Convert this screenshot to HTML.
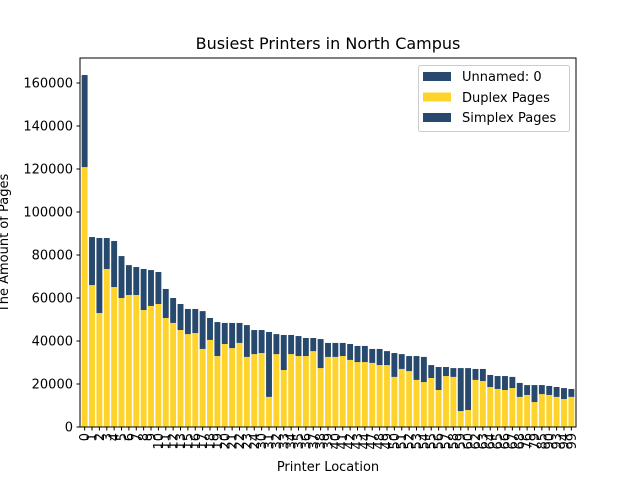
<!DOCTYPE html>
<html><head><meta charset="utf-8"><style>
html,body{margin:0;padding:0;background:#fff;}
svg{display:block;font-family:"DejaVu Sans","Liberation Sans",sans-serif;}
</style></head><body>
<svg id="chart" width="640" height="480" viewBox="0 0 640 480" xmlns="http://www.w3.org/2000/svg">
<rect x="0" y="0" width="640" height="480" fill="#fff"/>
<text x="328" y="49" font-size="16" text-anchor="middle" fill="#000">Busiest Printers in North Campus</text>
<text x="0" y="0" font-size="13" text-anchor="middle" transform="translate(8,243) rotate(-90)" fill="#000">The Amount of Pages</text>
<text x="328" y="471" font-size="13" text-anchor="middle" fill="#000">Printer Location</text>
<g id="bars"></g>
<g id="yticks"></g>
<g id="xticks"></g>
<rect x="80" y="58" width="496" height="369" fill="none" stroke="#000" stroke-width="1"/>
<g>
<rect x="418.5" y="65.5" width="151" height="66" rx="2" fill="#fff" fill-opacity="0.8" stroke="#ccc"/>
<rect x="423" y="72" width="28" height="9" fill="#27496d"/>
<text x="462" y="81" font-size="13">Unnamed: 0</text>
<rect x="423" y="92.5" width="28" height="9" fill="#fed42c"/>
<text x="462" y="102" font-size="13">Duplex Pages</text>
<rect x="423" y="113" width="28" height="9" fill="#27496d"/>
<text x="462" y="122" font-size="13">Simplex Pages</text>
</g>
</svg>
<script>
const categories = ["0","1","2","3","4","5","6","7","8","9","10","11","12","13","15","16","17","18","19","20","21","22","23","24","30","31","32","33","34","35","36","37","38","39","40","41","42","43","44","47","48","49","50","51","52","53","54","55","56","57","58","59","60","62","63","64","65","66","67","68","76","79","85","90","93","94","99"];
const totalPages = [163700,88350,87900,87900,86500,79500,75300,74400,73500,73000,72100,64200,60000,57200,54900,54900,53900,50700,48800,48400,48400,48400,47400,45100,45100,44200,43200,42800,42800,42300,41400,41400,40900,39100,39100,39100,38600,37700,37700,36300,36300,35300,34400,33900,33000,33000,32600,28800,27900,27900,27400,27400,27400,27000,27000,24200,23700,23700,23300,20500,19500,19500,19500,19100,18600,18100,17700];
const duplexPages = [120900,66000,53000,73500,65100,60000,61400,61400,54400,56300,57200,50700,48400,45100,43200,43700,36300,40500,33000,38600,36700,39100,32600,33900,34400,14000,33900,26500,33900,33000,33000,35300,27400,32600,32600,33000,31200,30200,30200,29800,28800,28800,23300,27000,26000,21900,20900,22800,17200,23700,23300,7400,7900,21900,21400,18600,17700,17200,18100,14000,14900,11600,15300,14900,14000,13000,14000];
const yTicks = [0,20000,40000,60000,80000,100000,120000,140000,160000];

const NS = "http://www.w3.org/2000/svg";
const L = 80, R = 576, T = 58, B = 427;
const n = categories.length;
const xmin = -0.63, xmax = n - 1 + 0.63;
const ymax = 160000 * (B - T) / (B - 83);
function xs(v){ return L + (v - xmin) / (xmax - xmin) * (R - L); }
function ys(v){ return B - v / ymax * (B - T); }
const bw = 0.8 * (R - L) / (xmax - xmin);

const gb = document.getElementById('bars');
for (let i = 0; i < n; i++) {
  const cx = xs(i);
  const d = document.createElementNS(NS, 'rect');
  
  
  d.setAttribute('x', cx - bw/2); d.setAttribute('width', bw);
  d.setAttribute('y', ys(duplexPages[i])); d.setAttribute('height', B - ys(duplexPages[i]));
  d.setAttribute('fill', '#fed42c');
  gb.appendChild(d);
  const s = document.createElementNS(NS, 'rect');
  
  
  s.setAttribute('x', cx - bw/2); s.setAttribute('width', bw);
  s.setAttribute('y', ys(totalPages[i])); s.setAttribute('height', ys(duplexPages[i]) - ys(totalPages[i]));
  s.setAttribute('fill', '#27496d');
  gb.appendChild(s);
}
const gy = document.getElementById('yticks');
yTicks.forEach(v => {
  const y = ys(v);
  const l = document.createElementNS(NS, 'line');
  
  
  l.setAttribute('x1', L - 3.5); l.setAttribute('x2', L); l.setAttribute('y1', y); l.setAttribute('y2', y);
  l.setAttribute('stroke', '#000');
  gy.appendChild(l);
  const t = document.createElementNS(NS, 'text');
  
  
  t.setAttribute('x', L - 7); t.setAttribute('y', y + 4.5);
  t.setAttribute('font-size', '13'); t.setAttribute('text-anchor', 'end');
  t.textContent = v;
  gy.appendChild(t);
});
const gx = document.getElementById('xticks');
categories.forEach((c, i) => {
  const x = xs(i);
  const l = document.createElementNS(NS, 'line');
  
  
  l.setAttribute('x1', x); l.setAttribute('x2', x); l.setAttribute('y1', B); l.setAttribute('y2', B + 3.5);
  l.setAttribute('stroke', '#000');
  gx.appendChild(l);
  const t = document.createElementNS(NS, 'text');
  
  
  t.setAttribute('font-size', '13'); t.setAttribute('text-anchor', 'end');
  t.setAttribute('transform', 'translate(' + (x + 4.5) + ',' + (B + 6) + ') rotate(-90)');
  t.textContent = c;
  gx.appendChild(t);
});
</script>
</body></html>
